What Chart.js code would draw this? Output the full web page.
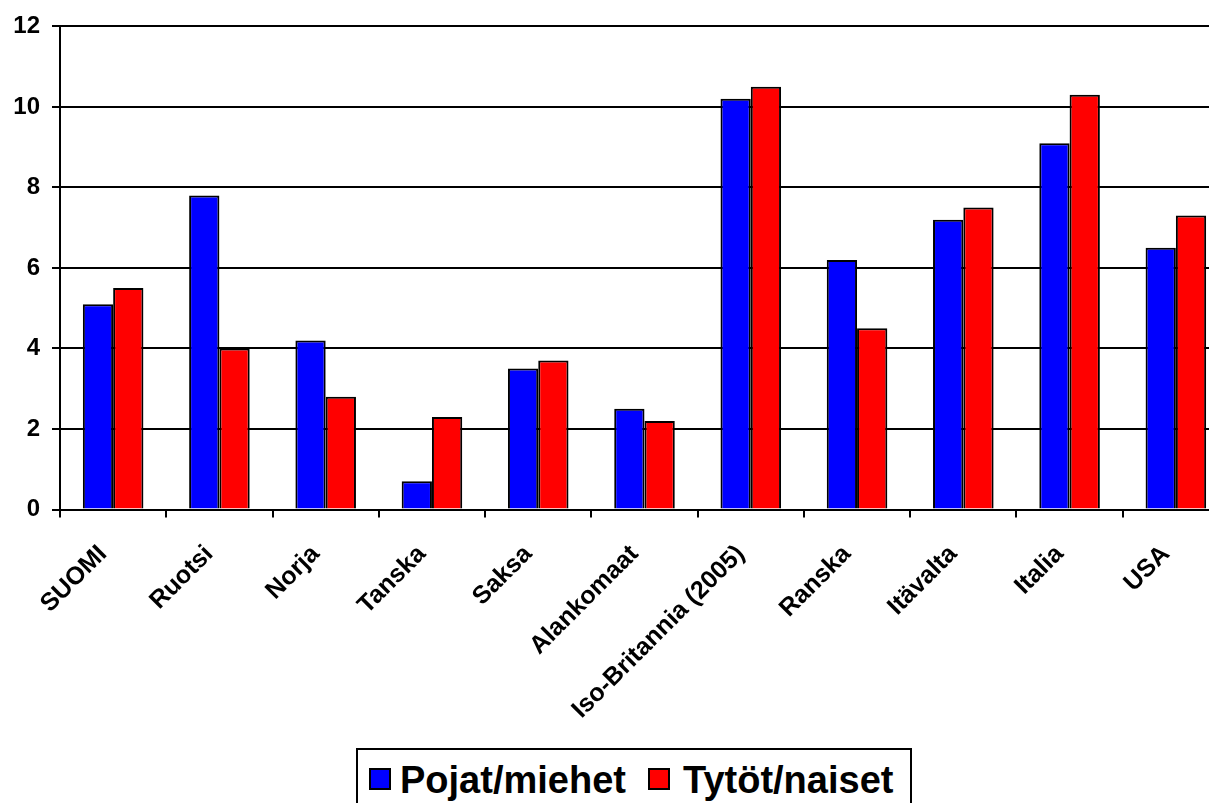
<!DOCTYPE html>
<html>
<head>
<meta charset="utf-8">
<script src="https://cdn.jsdelivr.net/npm/chart.js@4.4.1/dist/chart.umd.min.js"></script>
<style>
html,body{margin:0;padding:0;background:#fff;overflow:hidden;width:1209px;height:803px;}
#wrap{position:absolute;left:0;top:0;width:1240px;height:803px;}
#legend{position:absolute;left:356px;top:748px;width:556px;height:70px;border:2px solid #000;background:#fff;box-sizing:border-box;}
.sw{position:absolute;width:22px;height:22px;border:2px solid #000;box-sizing:border-box;top:18px;}
.lt{position:absolute;font-family:Arial,"Liberation Sans",sans-serif;font-weight:bold;font-size:38px;line-height:38px;top:11px;color:#000;white-space:nowrap;}
</style>
</head>
<body>
<div id="wrap"><canvas id="c" width="1240" height="803"></canvas></div>
<div id="legend">
  <div class="sw" style="left:11px;background:#0000FF"></div>
  <div class="lt" id="l1" style="left:42px"></div>
  <div class="sw" style="left:290px;background:#FF0000"></div>
  <div class="lt" id="l2" style="left:325px"></div>
</div>
<script>
const categories = ["SUOMI","Ruotsi","Norja","Tanska","Saksa","Alankomaat","Iso-Britannia (2005)","Ranska","Itävalta","Italia","USA"];
const seriesNames = ["Pojat/miehet","Tytöt/naiset"];
const boys  = [5.1, 7.8, 4.2, 0.7, 3.5, 2.5, 10.2, 6.2, 7.2, 9.1, 6.5];
const girls = [5.5, 4.0, 2.8, 2.3, 3.7, 2.2, 10.5, 4.5, 7.5, 10.3, 7.3];
const yTicks = [0, 2, 4, 6, 8, 10, 12];

document.getElementById('l1').textContent = seriesNames[0];
document.getElementById('l2').textContent = seriesNames[1];

const FONT = 'Arial, "Liberation Sans", sans-serif';

new Chart(document.getElementById('c'), {
  type: 'bar',
  data: {
    labels: categories,
    datasets: [
      { label: seriesNames[0], data: boys, backgroundColor: '#0000FF', borderColor: '#000', borderWidth: 2 },
      { label: seriesNames[1], data: girls, backgroundColor: '#FF0000', borderColor: '#000', borderWidth: 2 }
    ]
  },
  options: {
    responsive: false,
    animation: false,
    devicePixelRatio: 1,
    layout: { padding: { top: 22, right: 11, left: 0, bottom: 0 } },
    plugins: { legend: { display: false }, tooltip: { enabled: false } },
    datasets: { bar: { categoryPercentage: 0.57, barPercentage: 1.0 } },
    scales: {
      x: {
        offset: true,
        grid: { offset: true, drawOnChartArea: false, drawTicks: true, tickLength: 8, color: '#000', lineWidth: 2 },
        border: { color: '#000', width: 2 },
        ticks: {
          autoSkip: false, minRotation: 45, maxRotation: 45, padding: 22, labelOffset: -10, color: '#000',
          font: { family: FONT, size: 25, weight: 'bold' }
        },
        afterFit: (s) => { s.height = 293.5; }
      },
      y: {
        min: 0, max: 12,
        afterBuildTicks: (s) => { s.ticks = yTicks.map(v => ({ value: v })); },
        grid: { color: '#000', lineWidth: 2, tickLength: 8, drawTicks: true },
        border: { color: '#000', width: 2 },
        ticks: { padding: 12, color: '#000', font: { family: FONT, size: 24, weight: 'bold' } },
        afterFit: (s) => { s.width = 60; }
      }
    }
  }
});
</script>
</body>
</html>
